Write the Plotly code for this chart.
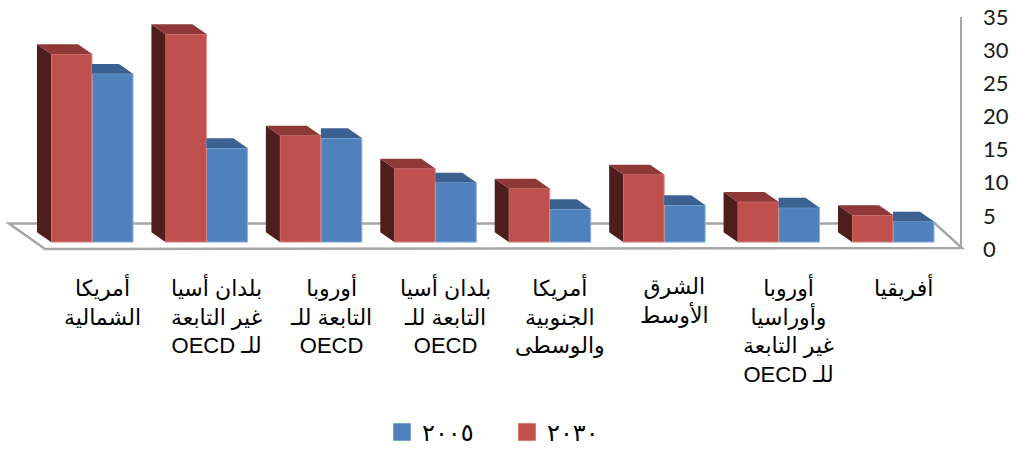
import plotly.graph_objects as go

# ---- data -------------------------------------------------------------
categories = [
    "أمريكا<br>الشمالية",
    "بلدان أسيا<br>غير التابعة<br>\u202bللـ OECD\u202c",
    "أوروبا<br>التابعة للـ<br>OECD",
    "بلدان أسيا<br>التابعة للـ<br>OECD",
    "أمريكا<br>الجنوبية<br>والوسطى",
    "الشرق<br>الأوسط",
    "أوروبا<br>وأوراسيا<br>غير التابعة<br>\u202bللـ OECD\u202c",
    "أفريقيا",
]
values_2030 = [28.4, 31.4, 16.1, 11.1, 8.1, 10.2, 6.1, 4.1]
values_2005 = [25.4, 14.2, 15.7, 9.0, 5.0, 5.6, 5.2, 3.1]
series_names = ["٢٠٠٥", "٢٠٣٠"]
y_ticks = [0, 5, 10, 15, 20, 25, 30, 35]

# ---- geometry / style --------------------------------------------------
W, H = 1017, 455
MARGIN_R = 50
PITCH_PX = 114.43          # pixels between category centres
UNIT_PX = 6.76             # pixels per value unit
X0_PX = 92                 # pixel position of the first category centre
BASE_PX = 247              # pixel row of the bars' front baseline
AXIS0_PX = 254             # pixel row of the value-axis zero label

BAR_W = 41 / PITCH_PX      # width of one bar front
DX = 14 / PITCH_PX         # receding depth, horizontal
DY = 10 / UNIT_PX          # receding depth, vertical

RED, RED_TOP, RED_SIDE, RED_EDGE = "#C0504D", "#8E3937", "#4E1E1D", "#D98E8C"
BLUE, BLUE_TOP, BLUE_SIDE, BLUE_EDGE = "#4F81BD", "#3A6190", "#2A4768", "#8EB1DA"
TEXT_FONT = "Liberation Sans, DejaVu Sans, sans-serif"

plot_w = W - MARGIN_R
x_range = [-X0_PX / PITCH_PX, (plot_w - X0_PX) / PITCH_PX]
y_range = [-(H - BASE_PX) / UNIT_PX, BASE_PX / UNIT_PX]
y2_range = [-(H - AXIS0_PX) / UNIT_PX, AXIS0_PX / UNIT_PX]


def px_x(px):
    return (px - X0_PX) / PITCH_PX


def px_y(px):
    return (BASE_PX - px) / UNIT_PX


idx = list(range(len(categories)))
x_red = [i - BAR_W / 2 for i in idx]
x_blue = [i + BAR_W / 2 for i in idx]


def poly_trace(polys, color):
    xs, ys = [], []
    for p in polys:
        xs += [pt[0] for pt in p] + [p[0][0], None]
        ys += [pt[1] for pt in p] + [p[0][1], None]
    return go.Scatter(x=xs, y=ys, mode="lines", fill="toself", fillcolor=color,
                      line=dict(width=0, color=color), hoverinfo="skip",
                      showlegend=False)


red_side, red_top, blue_side, blue_top = [], [], [], []
for i, vr, vb in zip(idx, values_2030, values_2005):
    xl, xr = i - BAR_W, i
    red_side.append([(xl, 0), (xl, vr), (xl - DX, vr + DY), (xl - DX, DY)])
    red_top.append([(xl, vr), (xr, vr), (xr - DX, vr + DY), (xl - DX, vr + DY)])
    bl, br = i, i + BAR_W
    if vb <= vr:
        # left part of the top face is hidden behind the 2030 column
        blue_top.append([(bl, vb), (br, vb), (br - DX, vb + DY), (bl, vb + DY)])
    else:
        blue_side.append([(bl, vr), (bl, vb), (bl - DX, vb + DY), (bl - DX, vr + DY)])
        blue_top.append([(bl, vb), (br, vb), (br - DX, vb + DY), (bl - DX, vb + DY)])

fig = go.Figure()

# front faces
fig.add_trace(go.Bar(x=x_blue, y=values_2005, width=BAR_W, name=series_names[0],
                     marker=dict(color=BLUE, line=dict(color=BLUE_EDGE, width=1)),
                     showlegend=False))
fig.add_trace(go.Bar(x=x_red, y=values_2030, width=BAR_W, name=series_names[1],
                     marker=dict(color=RED, line=dict(color=RED_EDGE, width=1)),
                     showlegend=False))

# receding faces
if blue_side:
    fig.add_trace(poly_trace(blue_side, BLUE_SIDE))
fig.add_trace(poly_trace(blue_top, BLUE_TOP))
fig.add_trace(poly_trace(red_side, RED_SIDE))
fig.add_trace(poly_trace(red_top, RED_TOP))

# legend entries
for name, color in zip(series_names, [BLUE, RED]):
    fig.add_trace(go.Scatter(x=[None], y=[None], mode="markers", name=name,
                             marker=dict(symbol="square", size=16, color=color,
                                         line=dict(color=color, width=1.5))))

# floor slab
fl = [(px_x(45), px_y(254)), (px_x(962), px_y(253)),
      (px_x(935), px_y(228)), (px_x(9), px_y(228))]
floor_path = "M" + " L".join(f"{x},{y}" for x, y in fl) + " Z"
fig.add_shape(type="path", path=floor_path, xref="x", yref="y",
              line=dict(color="#A6A6A6", width=2.5), fillcolor="white", layer="below")

# value axis line
fig.add_shape(type="line", xref="x", yref="y2", x0=px_x(961), x1=px_x(961),
              y0=0, y1=y_ticks[-1], line=dict(color="#A6A6A6", width=2), layer="below")

# category labels
for i, cat in zip(idx, categories):
    fig.add_annotation(x=i + 0.09, y=1 - 277 / H, xref="x", yref="paper",
                       text=cat, showarrow=False, yanchor="top", xanchor="center",
                       align="center",
                       font=dict(family=TEXT_FONT, size=22, color="#000000"))

fig.update_layout(
    width=W, height=H,
    margin=dict(l=0, r=MARGIN_R, t=0, b=0),
    paper_bgcolor="white", plot_bgcolor="white",
    barmode="overlay",
    xaxis=dict(range=x_range, visible=False, fixedrange=True),
    yaxis=dict(range=y_range, visible=False, fixedrange=True),
    yaxis2=dict(range=y2_range, overlaying="y", side="right", automargin=False,
                tickvals=y_ticks, ticktext=[str(t) for t in y_ticks],
                showgrid=False, zeroline=False, showline=False, ticks="",
                ticklabelstandoff=15,
                tickfont=dict(family="Lato, sans-serif", size=22, color="#1a1a1a")),
    legend=dict(orientation="h", x=382 / plot_w, xanchor="left",
                y=1 - 441 / H, yanchor="middle",
                entrywidth=80, entrywidthmode="pixels",
                font=dict(family=TEXT_FONT, size=24, color="#000000"),
                bgcolor="rgba(0,0,0,0)"),
    showlegend=True,
)

fig.write_html("out.html")
